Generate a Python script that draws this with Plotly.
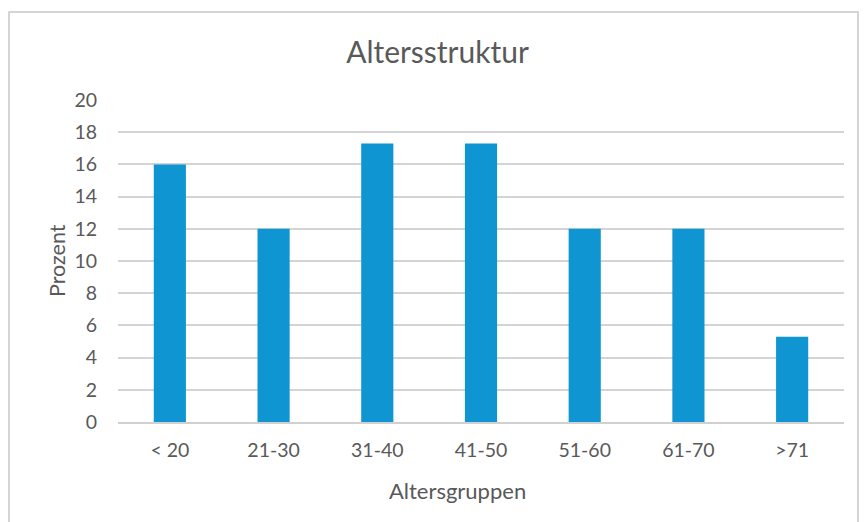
import plotly.graph_objects as go

categories = ["< 20", "21-30", "31-40", "41-50", "51-60", "61-70", ">71"]
prozent = [16.0, 12.0, 17.3, 17.3, 12.0, 12.0, 5.3]
y_ticks = [0, 2, 4, 6, 8, 10, 12, 14, 16, 18, 20]

txt = "#595959"
font_family = "Lato, Open Sans, sans-serif"

fig = go.Figure(go.Bar(x=categories, y=prozent, marker=dict(color="#0F96D2", line=dict(width=0))))

# page body has an 8px margin, so the figure origin sits at (8, 8)
OX, OY = 8, 8
W, H = 867 - OX, 522 - OY
L, R, T, B = 118 - OX, 23, 100 - OY, 100
pw, ph = W - L - R, H - T - B

def px(x):
    return (x - OX - L) / pw

def py(y):
    return (H - B - (y - OY)) / ph

fig.update_layout(
    width=W, height=H,
    margin=dict(l=L, r=R, t=T, b=B),
    paper_bgcolor="white", plot_bgcolor="white",
    bargap=0.69,
    showlegend=False,
    font=dict(family=font_family, color=txt, size=19),
    title=dict(text="Altersstruktur", x=0.5, xanchor="center", y=1 - (52 - OY) / H, yanchor="middle",
               font=dict(size=30, color=txt, family=font_family)),
    xaxis=dict(showgrid=False, showline=True, linecolor="#d0d0d0", linewidth=1.5,
               ticks="", ticklabelstandoff=10, tickfont=dict(size=19.5, color=txt)),
    yaxis=dict(range=[0, 20], tickvals=y_ticks, showgrid=True, gridcolor="#d4d4d4", gridwidth=1.5,
               zeroline=False, showline=False, ticks="", ticklabelstandoff=20,
               tickfont=dict(size=19.5, color=txt)),
    annotations=[
        dict(text="Altersgruppen", xref="paper", yref="paper", x=px(457), y=py(490),
             xanchor="center", yanchor="middle", showarrow=False, font=dict(size=22, color=txt)),
        dict(text="Prozent", xref="paper", yref="paper", x=px(57), y=py(261), textangle=-90,
             xanchor="center", yanchor="middle", showarrow=False, font=dict(size=21.5, color=txt)),
    ],
    shapes=[dict(type="rect", xref="paper", yref="paper",
                 x0=px(9), x1=px(858), y0=py(12), y1=py(560),
                 line=dict(color="#c8c8c8", width=1.5), fillcolor="rgba(0,0,0,0)", layer="below")],
)

fig.write_html("out.html")
